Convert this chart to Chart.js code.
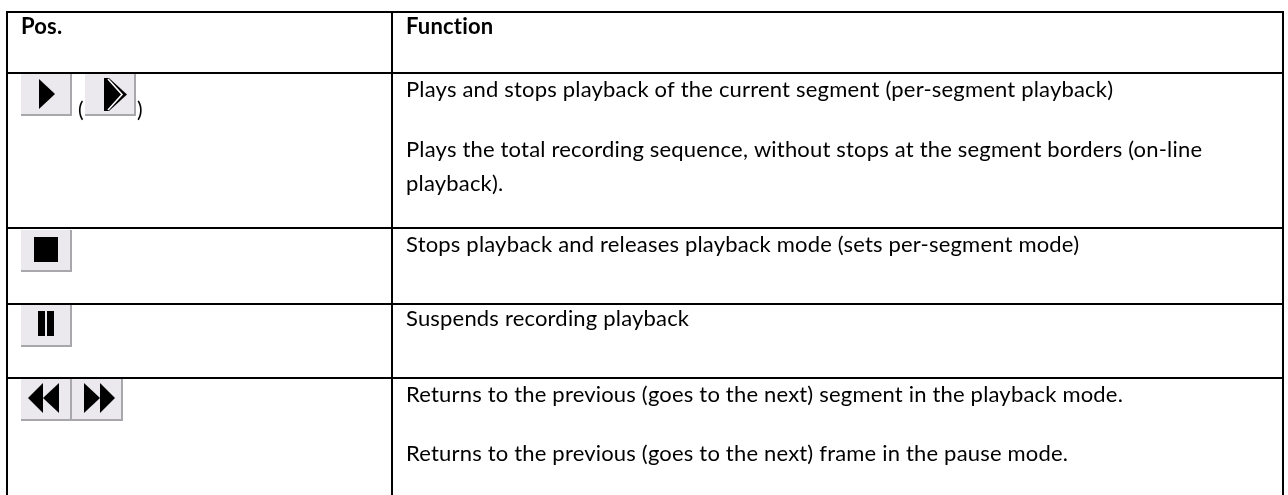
<!DOCTYPE html>
<html>
<head>
<meta charset="utf-8">
<style>
  html, body { margin: 0; padding: 0; background: #fff; }
  #tableChart { display: block; }
</style>
<script src="https://cdn.jsdelivr.net/npm/chart.js@4"></script>
</head>
<body>
<canvas id="tableChart" width="1288" height="495"></canvas>
<script>
// table rules, in picture units
const columnEdges = [7, 392, 1283];
const rowEdges = [12, 73, 228, 304, 378, 500];

const headerLabels = ['Pos.', 'Function'];
const headerX = [21, 406];
const headerY = [34];

const functionLines = [
    'Plays and stops playback of the current segment (per-segment playback)',
    'Plays the total recording sequence, without stops at the segment borders (on-line',
    'playback).',
    'Stops playback and releases playback mode (sets per-segment mode)',
    'Suspends recording playback',
    'Returns to the previous (goes to the next) segment in the playback mode.',
    'Returns to the previous (goes to the next) frame in the pause mode.'
];
const functionLineY = [97, 157, 191, 252, 326, 402, 461];

const bracketLabels = ['(', ')'];
const bracketX = [78, 137];
const bracketY = [117];

const buttonNames = ['play', 'playAll', 'stop', 'pause', 'prev', 'next'];
const buttonX = [46.5, 110.5, 46.5, 46.5, 46.5, 97.5];
const buttonY = [95, 95, 251, 326, 400, 400];

const fontRegular = '22px Lato';
const fontBold = 'bold 22px Lato';
const fontBracket = '21px Lato';
const longestLineWidth = 796;

// button faces are small canvases used as point styles
function makeButton(name) {
    const c = document.createElement('canvas');
    c.width = 51;
    c.height = 42;
    const g = c.getContext('2d');
    g.fillStyle = '#ebe9ee';
    g.fillRect(0, 0, 50, 41);
    g.fillStyle = '#a8a8ac';
    g.fillRect(49, 0, 2, 42);
    g.fillRect(0, 40, 51, 2);

    const poly = (pts, color) => {
        g.fillStyle = color;
        g.beginPath();
        pts.forEach((p, i) => i ? g.lineTo(p[0], p[1]) : g.moveTo(p[0], p[1]));
        g.closePath();
        g.fill();
    };
    g.fillStyle = '#000';
    if (name === 'play') {
        poly([[18, 5], [34, 20], [18, 35]], '#000');
    } else if (name === 'playAll') {
        poly([[19, 4], [24, 4], [42, 20.5], [24, 37], [19, 37]], '#000');
        g.strokeStyle = '#ffffff';
        g.lineWidth = 1.6;
        g.beginPath();
        g.moveTo(23, 5);
        g.lineTo(37, 20.5);
        g.lineTo(23, 36);
        g.stroke();
    } else if (name === 'stop') {
        g.fillRect(13, 7, 24, 25);
    } else if (name === 'pause') {
        g.fillRect(17, 6, 7, 25);
        g.fillRect(26, 6, 7, 25);
    } else if (name === 'prev') {
        poly([[7, 19], [22, 4], [22, 34]], '#000');
        poly([[22, 19], [38, 4], [38, 34]], '#000');
    } else if (name === 'next') {
        poly([[12, 4], [28, 19], [12, 34]], '#000');
        poly([[28, 4], [43, 19], [28, 34]], '#000');
    }
    return c;
}

// text goes through the same scales as everything else
const tableText = {
    id: 'tableText',
    afterDatasetsDraw(chart) {
        const { ctx, scales } = chart;
        const put = (str, x, y, font) => {
            ctx.font = font;
            ctx.fillText(str, scales.x.getPixelForValue(x), scales.y.getPixelForValue(y));
        };
        ctx.save();
        ctx.fillStyle = '#000';
        ctx.textAlign = 'left';
        ctx.textBaseline = 'alphabetic';

        // small tweak so the long line ends where it does in the reference
        ctx.font = fontRegular;
        const natural = ctx.measureText(functionLines[1]).width;
        ctx.letterSpacing = ((longestLineWidth - natural) / (functionLines[1].length - 1)).toFixed(3) + 'px';

        headerLabels.forEach((t, i) => put(t, headerX[i], headerY[0], fontBold));
        functionLines.forEach((t, i) => put(t, headerX[1], functionLineY[i], fontRegular));
        bracketLabels.forEach((t, i) => put(t, bracketX[i], bracketY[0], fontBracket));
        ctx.restore();
    }
};

const rulePoints = [];
columnEdges.forEach(x => {
    rulePoints.push({ x: x, y: rowEdges[0] }, { x: x, y: rowEdges[rowEdges.length - 1] }, { x: null, y: null });
});
rowEdges.forEach(y => {
    rulePoints.push({ x: columnEdges[0], y: y }, { x: columnEdges[columnEdges.length - 1], y: y }, { x: null, y: null });
});

document.addEventListener('DOMContentLoaded', function() {
    const ctx = document.getElementById('tableChart').getContext('2d');
    window.tableChart = new Chart(ctx, {
        type: 'scatter',
        data: {
            datasets: [{
                label: 'rules',
                data: rulePoints,
                showLine: true,
                spanGaps: false,
                clip: false,
                borderColor: '#000',
                borderWidth: 2,
                borderCapStyle: 'square',
                pointRadius: 0
            }, {
                label: 'buttons',
                data: buttonNames.map((n, i) => ({ x: buttonX[i], y: buttonY[i] })),
                pointStyle: buttonNames.map(makeButton),
                clip: false,
                showLine: false
            }]
        },
        options: {
            responsive: false,
            animation: false,
            layout: { padding: 0, autoPadding: false },
            plugins: {
                legend: { display: false },
                tooltip: { enabled: false }
            },
            scales: {
                x: { type: 'linear', display: false, min: 0, max: 1288 },
                y: { type: 'linear', display: false, min: 0, max: 495, reverse: true }
            }
        },
        plugins: [tableText]
    });
});
</script>
</body>
</html>
